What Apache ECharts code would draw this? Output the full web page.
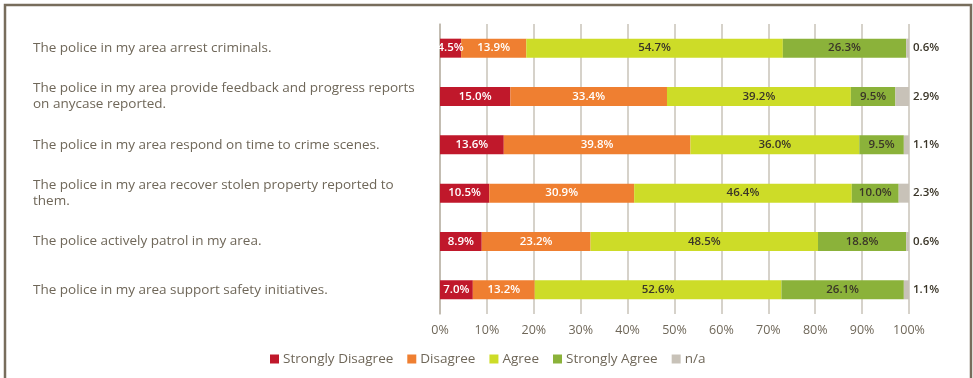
<!DOCTYPE html>
<html>
<head>
<meta charset="utf-8">
<script src="https://cdn.jsdelivr.net/npm/echarts@6/dist/echarts.min.js"></script>
<style>
  html, body { margin: 0; padding: 0; background: #fff; }
  #chart { width: 973px; height: 378px; }
</style>
</head>
<body>
<div id="chart"></div>
<script>
// Survey statements, top to bottom
const statements = [
  'The police in my area arrest criminals.',
  'The police in my area provide feedback and progress reports\non anycase reported.',
  'The police in my area respond on time to crime scenes.',
  'The police in my area recover stolen property reported to\nthem.',
  'The police actively patrol in my area.',
  'The police in my area support safety initiatives.'
];

// Response shares (%) per statement
const stronglyDisagree = [4.5, 15.0, 13.6, 10.5, 8.9, 7.0];
const disagree         = [13.9, 33.4, 39.8, 30.9, 23.2, 13.2];
const agree            = [54.7, 39.2, 36.0, 46.4, 48.5, 52.6];
const stronglyAgree    = [26.3, 9.5, 9.5, 10.0, 18.8, 26.1];
const notApplicable    = [0.6, 2.9, 1.1, 2.3, 0.6, 1.1];

const xTicks = [0, 10, 20, 30, 40, 50, 60, 70, 80, 90, 100];

const textGrey = '#6f6759';
const lineGrey = '#c9c3b9';
const textFont = 'Open Sans';

function segment(name, values, color, textColor, position) {
  return {
    name: name,
    type: 'bar',
    stack: 'total',
    data: values,
    barWidth: 19,
    itemStyle: { color: color },
    label: {
      show: true,
      position: position || 'inside',
      distance: 4,
      color: textColor,
      fontFamily: textFont,
      fontWeight: 600,
      fontSize: 11.5,
      formatter: p => p.value.toFixed(1) + '%'
    }
  };
}

const chart = echarts.init(document.getElementById('chart'));
chart.setOption({
  animation: false,
  backgroundColor: '#fff',
  graphic: [{
    type: 'rect',
    shape: { x: 5, y: 5, width: 966, height: 400 },
    style: { fill: 'none', stroke: '#776d5c', lineWidth: 2.5 },
    silent: true
  }],
  grid: { left: 440, right: 64, top: 24, height: 290, containLabel: false },
  legend: {
    top: 347,
    left: 265,
    itemWidth: 9,
    itemHeight: 9,
    itemGap: 14,
    icon: 'rect',
    textStyle: { color: textGrey, fontFamily: textFont, fontSize: 13.5, padding: [0, 0, 0, -1] },
    data: ['Strongly Disagree', 'Disagree', 'Agree', 'Strongly Agree', 'n/a']
  },
  xAxis: {
    type: 'value',
    min: 0,
    max: 100,
    interval: 10,
    axisLine: { show: false },
    axisTick: { show: false },
    splitLine: { show: true, lineStyle: { color: lineGrey, width: 1.5 } },
    axisLabel: {
      color: textGrey,
      fontFamily: textFont,
      fontSize: 12.5,
      margin: 10,
      formatter: v => xTicks.includes(v) ? v + '%' : ''
    }
  },
  yAxis: {
    type: 'category',
    inverse: true,
    data: statements,
    axisLine: { show: true, lineStyle: { color: '#bdb6aa', width: 1.5 } },
    axisTick: { show: false },
    axisLabel: {
      align: 'left',
      margin: 407,
      color: textGrey,
      fontFamily: textFont,
      fontSize: 13.5,
      lineHeight: 16
    }
  },
  series: [
    segment('Strongly Disagree', stronglyDisagree, '#c0182b', '#ffffff'),
    segment('Disagree', disagree, '#ef7f31', '#ffffff'),
    segment('Agree', agree, '#cddc28', '#3a3528'),
    segment('Strongly Agree', stronglyAgree, '#8bb23a', '#3a3528'),
    segment('n/a', notApplicable, '#c8c2b8', '#3a3528', 'right')
  ]
});
</script>
</body>
</html>
